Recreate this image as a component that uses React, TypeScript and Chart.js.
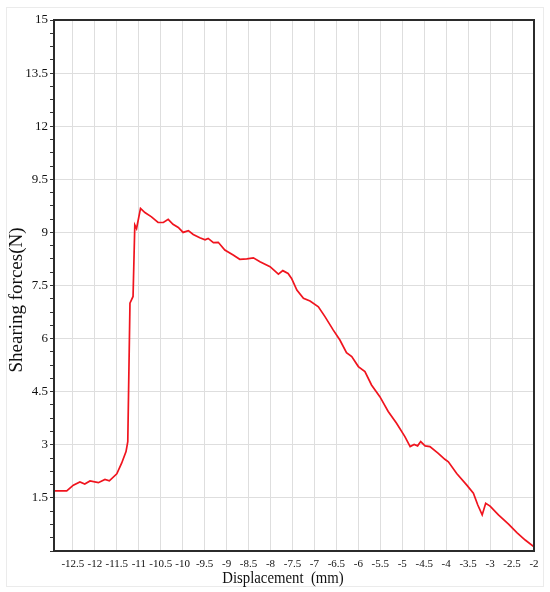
import React, { useEffect, useRef } from "react";
import { Chart, registerables } from "chart.js";

Chart.register(...registerables);

const dispX = [-12.93, -12.64, -12.49, -12.34, -12.23, -12.11, -11.92, -11.77, -11.67, -11.5, -11.39, -11.29, -11.25, -11.2, -11.13, -11.09, -11.05, -10.96, -10.86, -10.71, -10.56, -10.44, -10.33, -10.22, -10.1, -9.99, -9.87, -9.76, -9.61, -9.49, -9.42, -9.3, -9.19, -9.04, -8.85, -8.7, -8.54, -8.39, -8.24, -8.01, -7.82, -7.72, -7.6, -7.52, -7.4, -7.25, -7.1, -6.91, -6.76, -6.57, -6.42, -6.27, -6.15, -6.0, -5.85, -5.7, -5.51, -5.32, -5.13, -4.94, -4.82, -4.73, -4.65, -4.58, -4.48, -4.37, -4.18, -4.03, -3.95, -3.76, -3.53, -3.38, -3.28, -3.18, -3.1, -3.0, -2.81, -2.58, -2.39, -2.2, -2.0];

const shearForce = [1.7, 1.7, 1.86, 1.95, 1.89, 1.98, 1.93, 2.02, 1.98, 2.18, 2.48, 2.81, 3.09, 7.0, 7.19, 9.21, 9.11, 9.68, 9.56, 9.44, 9.28, 9.28, 9.37, 9.23, 9.14, 9.0, 9.05, 8.94, 8.85, 8.79, 8.83, 8.71, 8.72, 8.5, 8.36, 8.24, 8.25, 8.28, 8.17, 8.03, 7.82, 7.92, 7.84, 7.7, 7.37, 7.14, 7.06, 6.9, 6.62, 6.24, 5.96, 5.6, 5.49, 5.21, 5.07, 4.69, 4.36, 3.94, 3.61, 3.23, 2.95, 3.01, 2.97, 3.09, 2.97, 2.95, 2.76, 2.59, 2.52, 2.19, 1.86, 1.63, 1.3, 1.02, 1.35, 1.27, 1.02, 0.76, 0.52, 0.31, 0.12];

const xTickValues = [-12.5, -12, -11.5, -11, -10.5, -10, -9.5, -9, -8.5, -8, -7.5, -7, -6.5, -6, -5.5, -5, -4.5, -4, -3.5, -3, -2.5, -2];
const yMajorLabels = ["", "1.5", "3", "4.5", "6", "7.5", "9", "9.5", "12", "13.5", "15"];

const X_MIN = -12.93;
const X_MAX = -2;
const Y_MIN = 0;
const Y_MAX = 15;
const Y_MAJOR = 1.5;
const Y_MINOR_PER_MAJOR = 4;

const xTitle = "Displacement  (mm)";
const yTitle = "Shearing forces(N)";

const SERIF = "'Liberation Serif', 'Times New Roman', serif";

const isMajor = (v: number) => Math.abs(v / Y_MAJOR - Math.round(v / Y_MAJOR)) < 1e-6;

const framePlugin = {
  id: "framePlugin",
  beforeDraw(chart: any) {
    const ctx = chart.ctx;
    ctx.save();
    ctx.fillStyle = "#ffffff";
    ctx.fillRect(0, 0, chart.width, chart.height);
    ctx.strokeStyle = "#ebebeb";
    ctx.lineWidth = 1;
    ctx.strokeRect(6.5, 7.5, 537, 579);
    ctx.restore();
  },
  afterDraw(chart: any) {
    const ctx = chart.ctx;
    const a = chart.chartArea;
    ctx.save();
    ctx.strokeStyle = "#2b2b2b";
    ctx.lineWidth = 2;
    ctx.strokeRect(a.left, a.top, a.right - a.left, a.bottom - a.top);

    ctx.fillStyle = "#111";
    ctx.textAlign = "center";
    ctx.textBaseline = "middle";

    ctx.save();
    ctx.translate(17, 300);
    ctx.rotate(-Math.PI / 2);
    ctx.font = `19px ${SERIF}`;
    ctx.fillText(yTitle, 0, 0);
    ctx.restore();

    ctx.save();
    ctx.translate(283, 579);
    ctx.scale(0.87, 1);
    ctx.font = `17px ${SERIF}`;
    ctx.fillText(xTitle, 0, 0);
    ctx.restore();

    ctx.restore();
  },
};

export default function App() {
  const canvasRef = useRef<HTMLCanvasElement | null>(null);

  useEffect(() => {
    if (!canvasRef.current) return;
    const points = dispX.map((x, i) => ({ x, y: shearForce[i] }));
    const chart = new Chart(canvasRef.current, {
      type: "line",
      data: {
        datasets: [
          {
            data: points,
            borderColor: "#f0141e",
            borderWidth: 1.7,
            pointRadius: 0,
            tension: 0,
            fill: false,
          },
        ],
      },
      options: {
        animation: false,
        responsive: true,
        maintainAspectRatio: false,
        layout: { padding: { left: 0, top: 20, right: 16, bottom: 0 } },
        plugins: {
          legend: { display: false },
          tooltip: { enabled: false },
        },
        scales: {
          x: {
            type: "linear",
            min: X_MIN,
            max: X_MAX,
            border: { display: false },
            grid: { color: "#dedede", lineWidth: 1, drawTicks: false },
            afterBuildTicks: (scale: any) => {
              scale.ticks = xTickValues.map((v) => ({ value: v }));
            },
            afterFit: (scale: any) => {
              scale.height = 41;
            },
            ticks: {
              autoSkip: false,
              maxRotation: 0,
              minRotation: 0,
              padding: 7,
              color: "#111",
              font: { family: SERIF, size: 11 },
              callback: (v: any) => String(v),
            },
          },
          y: {
            type: "linear",
            min: Y_MIN,
            max: Y_MAX,
            border: { display: false },
            grid: {
              color: (c: any) => (c.tick && isMajor(c.tick.value) ? "#dedede" : "rgba(0,0,0,0)"),
              tickColor: "#333",
              tickLength: 4,
              lineWidth: 1,
            },
            afterBuildTicks: (scale: any) => {
              const n = Math.round((Y_MAX - Y_MIN) / (Y_MAJOR / Y_MINOR_PER_MAJOR));
              const t = [];
              for (let i = 0; i <= n; i++) t.push({ value: Y_MIN + (i * Y_MAJOR) / Y_MINOR_PER_MAJOR });
              scale.ticks = t;
            },
            afterFit: (scale: any) => {
              scale.width = 54;
            },
            ticks: {
              autoSkip: false,
              padding: 2,
              color: "#111",
              font: { family: SERIF, size: 13 },
              callback: (v: any, i: number) =>
                i % Y_MINOR_PER_MAJOR === 0 ? yMajorLabels[i / Y_MINOR_PER_MAJOR] : "",
            },
          },
        },
      },
      plugins: [framePlugin],
    });
    return () => chart.destroy();
  }, []);

  return (
    <div style={{ position: "absolute", left: 0, top: 0, width: 550, height: 592, background: "#fff" }}>
      <canvas ref={canvasRef} />
    </div>
  );
}
